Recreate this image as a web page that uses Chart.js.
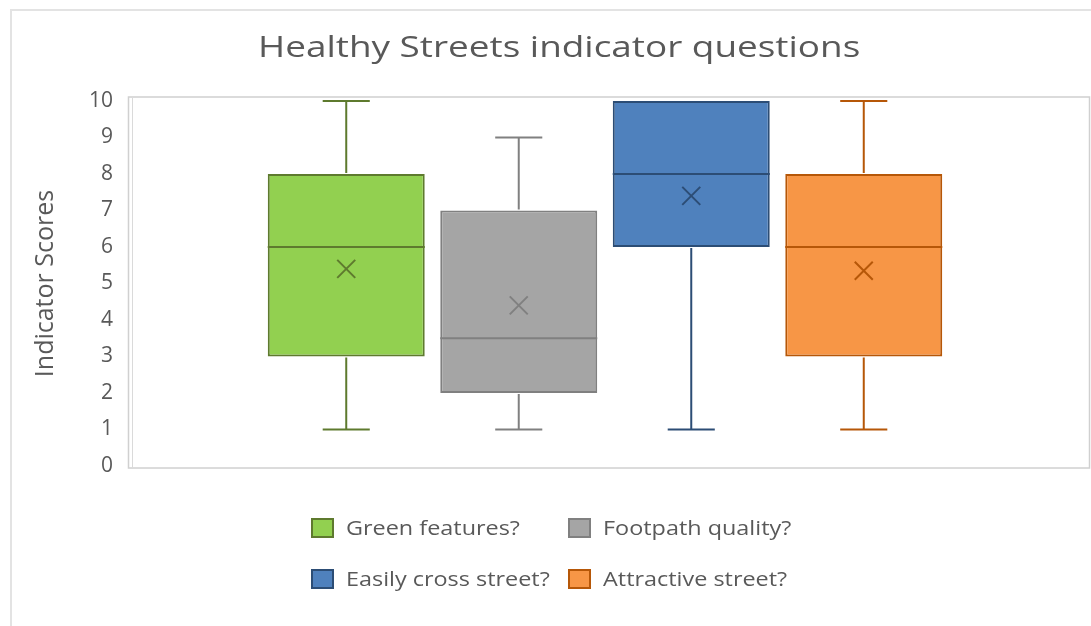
<!DOCTYPE html>
<html>
<head>
<meta charset="utf-8">
<script src="https://cdn.jsdelivr.net/npm/chart.js@4/dist/chart.umd.min.js"></script>
<style>
  html, body { margin: 0; padding: 0; background: #ffffff; overflow: hidden; }
  #wrap { position: relative; width: 1091px; height: 626px; overflow: hidden; }
  #frame { position: absolute; left: 10px; top: 9px; width: 1200px; height: 800px; border: 2px solid #e3e3e3; box-sizing: border-box; }
  #c { position: absolute; left: 0; top: 0; }
  #title { position: absolute; left: 258px; top: 31px; height: 30px; line-height: 30px; font-family: "Open Sans", sans-serif; font-size: 30px; color: #595959; white-space: nowrap; transform: scaleX(1.23); transform-origin: 0 50%; }
  .lg-box { position: absolute; width: 23px; height: 20px; box-sizing: border-box; border: 2px solid #000; }
  .lg-text { position: absolute; height: 28px; line-height: 28px; font-family: "Open Sans", sans-serif; font-size: 20px; color: #595959; white-space: nowrap; transform: scaleX(1.17); transform-origin: 0 50%; }
</style>
</head>
<body>
<div id="wrap">
  <div id="frame"></div>
  <canvas id="c" width="1091" height="626"></canvas>
  <div id="title"></div>
  <div id="legend"></div>
</div>
<script>
// ---- data ----
const chartTitle = 'Healthy Streets indicator questions';
const yAxisTitle = 'Indicator Scores';
const categories = ['Green features?', 'Footpath quality?', 'Easily cross street?', 'Attractive street?'];
const minValues    = [1, 1, 1, 1];
const q1Values     = [3, 2, 6, 3];
const medianValues = [6, 3.5, 8, 6];
const q3Values     = [8, 7, 10, 8];
const maxValues    = [10, 9, 10, 10];
const meanValues   = [5.4, 4.4, 7.4, 5.35];
const yMin = 0, yMax = 10, yStep = 1;

// ---- styles ----
const fillColors   = ['#92d050', '#a5a5a5', '#4f81bd', '#f79646'];
const strokeColors = ['#5e7a2e', '#808080', '#2c4d75', '#b65708'];

const datasets = categories.map((name, i) => ({
  label: name,
  data: [[q1Values[i], q3Values[i]]],
  backgroundColor: fillColors[i],
  borderColor: strokeColors[i],
  borderWidth: 2,
  borderSkipped: false,
  categoryPercentage: 0.7233,
  barPercentage: 0.91
}));

const framePlugin = {
  id: 'plotFrame',
  beforeDatasetsDraw(chart) {
    const ctx = chart.ctx, a = chart.chartArea;
    ctx.save();
    ctx.strokeStyle = '#d0d0d0';
    ctx.lineWidth = 1.5;
    ctx.strokeRect(a.left + 0.5, a.top - 4, 1089 - a.left, (a.bottom + 2) - (a.top - 4));
    ctx.strokeStyle = '#dadada';
    ctx.lineWidth = 1;
    ctx.beginPath();
    ctx.moveTo(a.left + 4.5, a.top - 3);
    ctx.lineTo(a.left + 4.5, a.bottom + 2);
    ctx.stroke();
    ctx.restore();
  }
};

const boxPlugin = {
  id: 'boxExtras',
  afterDatasetsDraw(chart) {
    const ctx = chart.ctx, ys = chart.scales.y;
    ctx.save();
    chart.data.datasets.forEach((ds, i) => {
      const bar = chart.getDatasetMeta(i).data[0];
      if (!bar) return;
      const x = bar.x, w = bar.width;
      const cap = w * 0.3;
      ctx.strokeStyle = strokeColors[i];
      ctx.lineWidth = 2;
      ctx.lineCap = 'butt';
      const yq1 = ys.getPixelForValue(q1Values[i]);
      const yq3 = ys.getPixelForValue(q3Values[i]);
      const ymin = ys.getPixelForValue(minValues[i]);
      const ymax = ys.getPixelForValue(maxValues[i]);
      const ymed = ys.getPixelForValue(medianValues[i]);
      const ymean = ys.getPixelForValue(meanValues[i]);
      ctx.beginPath();
      if (maxValues[i] > q3Values[i]) {
        ctx.moveTo(x, yq3 - 1); ctx.lineTo(x, ymax);
        ctx.moveTo(x - cap / 2, ymax); ctx.lineTo(x + cap / 2, ymax);
      }
      if (minValues[i] < q1Values[i]) {
        ctx.moveTo(x, yq1 + 1); ctx.lineTo(x, ymin);
        ctx.moveTo(x - cap / 2, ymin); ctx.lineTo(x + cap / 2, ymin);
      }
      ctx.moveTo(x - w / 2, ymed); ctx.lineTo(x + w / 2, ymed);
      ctx.stroke();
      // mean marker (X)
      const m = 9;
      ctx.beginPath();
      ctx.moveTo(x - m, ymean - m); ctx.lineTo(x + m, ymean + m);
      ctx.moveTo(x - m, ymean + m); ctx.lineTo(x + m, ymean - m);
      ctx.stroke();
    });
    ctx.restore();
  }
};

new Chart(document.getElementById('c'), {
  type: 'bar',
  data: { labels: [''], datasets },
  options: {
    responsive: false,
    animation: false,
    layout: { padding: { left: 33, right: 9, top: 101, bottom: 160 } },
    plugins: {
      legend: { display: false },
      tooltip: { enabled: false },
      title: { display: false }
    },
    scales: {
      x: { type: 'category', display: false, offset: true },
      y: {
        min: yMin, max: yMax,
        afterFit(scale) { scale.width = 95; },
        ticks: { stepSize: yStep, padding: 15, color: '#595959', font: { family: '"Open Sans", sans-serif', size: 21 } },
        grid: { display: false, drawTicks: false },
        border: { display: false },
        title: {
          display: true,
          text: yAxisTitle,
          color: '#595959',
          font: { family: '"Open Sans", sans-serif', size: 25, lineHeight: 1 },
          padding: { top: 0, bottom: 0 }
        }
      }
    }
  },
  plugins: [framePlugin, boxPlugin]
});

document.getElementById('title').textContent = chartTitle;

// legend (2 x 2 grid like the reference)
const legendPos = [
  { bx: 311, by: 518 }, { bx: 568, by: 518 },
  { bx: 311, by: 569 }, { bx: 568, by: 569 }
];
const lg = document.getElementById('legend');
categories.forEach((name, i) => {
  const p = legendPos[i];
  const b = document.createElement('div');
  b.className = 'lg-box';
  b.style.left = p.bx + 'px'; b.style.top = p.by + 'px';
  b.style.background = fillColors[i]; b.style.borderColor = strokeColors[i];
  lg.appendChild(b);
  const t = document.createElement('div');
  t.className = 'lg-text';
  t.style.left = (p.bx + 35) + 'px'; t.style.top = (p.by + 10 - 14) + 'px';
  t.textContent = name;
  lg.appendChild(t);
});
</script>
</body>
</html>
